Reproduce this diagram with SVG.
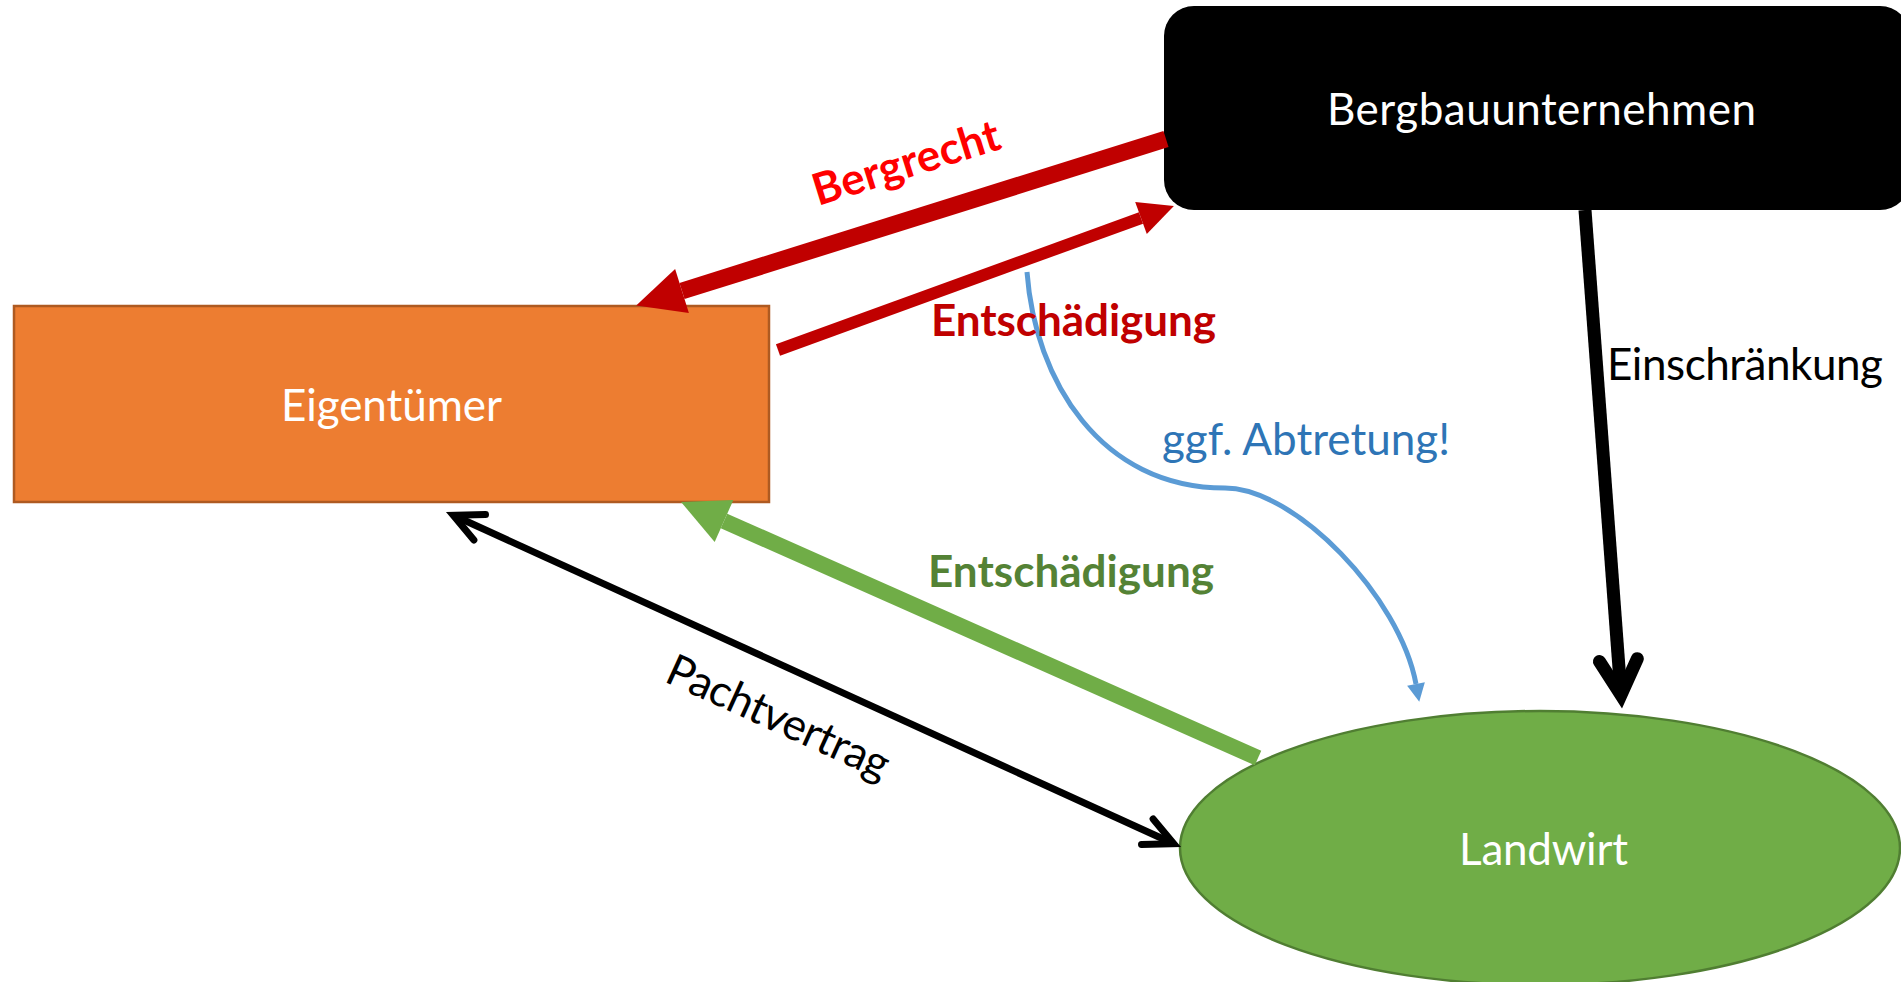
<svg xmlns="http://www.w3.org/2000/svg" width="1901" height="982" viewBox="0 0 1901 982">
<style>
  .node-label { font-family: Lato, "Open Sans", "Liberation Sans", sans-serif; font-size: 44px; fill: #FFFFFF; }
  .lbl { font-family: Lato, "Open Sans", "Liberation Sans", sans-serif; font-size: 44px; }
  .bold { font-weight: bold; }
  .conn { fill: none; }
</style>
<defs>
  <marker id="headRed" markerUnits="userSpaceOnUse" orient="auto" viewBox="-5 -30 60 60" markerWidth="60" markerHeight="60" refX="0" refY="0" overflow="visible">
    <path d="M0,-23 L48,0 L0,23 Z" fill="#C00000"/>
  </marker>
  <marker id="headRedSmall" markerUnits="userSpaceOnUse" orient="auto" viewBox="-5 -30 60 60" markerWidth="60" markerHeight="60" refX="0" refY="0" overflow="visible">
    <path d="M0,-17 L35,0 L0,17 Z" fill="#C00000"/>
  </marker>
  <marker id="headGreen" markerUnits="userSpaceOnUse" orient="auto" viewBox="-5 -30 60 60" markerWidth="60" markerHeight="60" refX="0" refY="0" overflow="visible">
    <path d="M0,-23 L47,0 L0,23 Z" fill="#70AD47"/>
  </marker>
  <marker id="headBlue" markerUnits="userSpaceOnUse" orient="auto" viewBox="-5 -15 30 30" markerWidth="30" markerHeight="30" refX="0" refY="0" overflow="visible">
    <path d="M0,-9 L18,0 L0,9 Z" fill="#5B9BD5"/>
  </marker>
  <marker id="openThick" markerUnits="userSpaceOnUse" orient="auto" viewBox="-50 -50 100 100" markerWidth="100" markerHeight="100" refX="0" refY="0" overflow="visible">
    <path d="M-35,-19 L0,0 L-35,19" fill="none" stroke="#000" stroke-width="13" stroke-linecap="round" stroke-linejoin="miter"/>
  </marker>
  <marker id="openThin" markerUnits="userSpaceOnUse" orient="auto-start-reverse" viewBox="-50 -50 100 100" markerWidth="100" markerHeight="100" refX="0" refY="0" overflow="visible">
    <path d="M-29,-14 L0,0 L-29,14" fill="none" stroke="#000" stroke-width="7" stroke-linecap="round" stroke-linejoin="miter"/>
  </marker>
</defs>

<g id="node-bergbau">
  <rect x="1164" y="6" width="746" height="204" rx="30" ry="30" fill="#000000"/>
  <text class="node-label" x="1327" y="125" textLength="429">Bergbauunternehmen</text>
</g>
<g id="node-eigentuemer">
  <rect x="14" y="306" width="755" height="196" fill="#ED7D31" stroke="#AE5A21" stroke-width="2.5"/>
  <text class="node-label" x="281" y="421" textLength="221">Eigentümer</text>
</g>
<g id="node-landwirt">
  <ellipse cx="1540" cy="848" rx="360" ry="137" fill="#70AD47" stroke="#507E32" stroke-width="2.5"/>
  <text class="node-label" x="1459" y="865" textLength="169">Landwirt</text>
</g>

<g id="connectors">
  <path class="conn" d="M1166,139 L682,291" stroke="#C00000" stroke-width="17" marker-end="url(#headRed)"/>
  <path class="conn" d="M778,350 L1141,218" stroke="#C00000" stroke-width="12" marker-end="url(#headRedSmall)"/>
  <path class="conn" d="M1258,758 L724,521" stroke="#70AD47" stroke-width="16" marker-end="url(#headGreen)"/>
  <path class="conn" d="M453.3,515.3 L1173.7,843.7" stroke="#000" stroke-width="7" marker-start="url(#openThin)" marker-end="url(#openThin)"/>
  <path class="conn" d="M1585,210 L1621,695" stroke="#000" stroke-width="13" marker-end="url(#openThick)"/>
  <path class="conn" d="M1027,272 C1035,380 1100,488 1225,488 C1295,488 1400,597 1416,684" stroke="#5B9BD5" stroke-width="5" marker-end="url(#headBlue)"/>

  <text class="lbl bold" fill="#FF0000" transform="translate(818,206) rotate(-17.3)" x="0" y="0" textLength="194">Bergrecht</text>
  <text class="lbl bold" fill="#C00000" x="931" y="336" textLength="285">Entschädigung</text>
  <text class="lbl bold" fill="#548235" x="928" y="587" textLength="286">Entschädigung</text>
  <text class="lbl" fill="#2E75B6" x="1162" y="455" textLength="288">ggf. Abtretung!</text>
  <text class="lbl" fill="#000" x="1607" y="380" textLength="276">Einschränkung</text>
  <text class="lbl" fill="#000" transform="translate(663,681) rotate(24.5)" x="0" y="0" textLength="240">Pachtvertrag</text>
</g>
</svg>
